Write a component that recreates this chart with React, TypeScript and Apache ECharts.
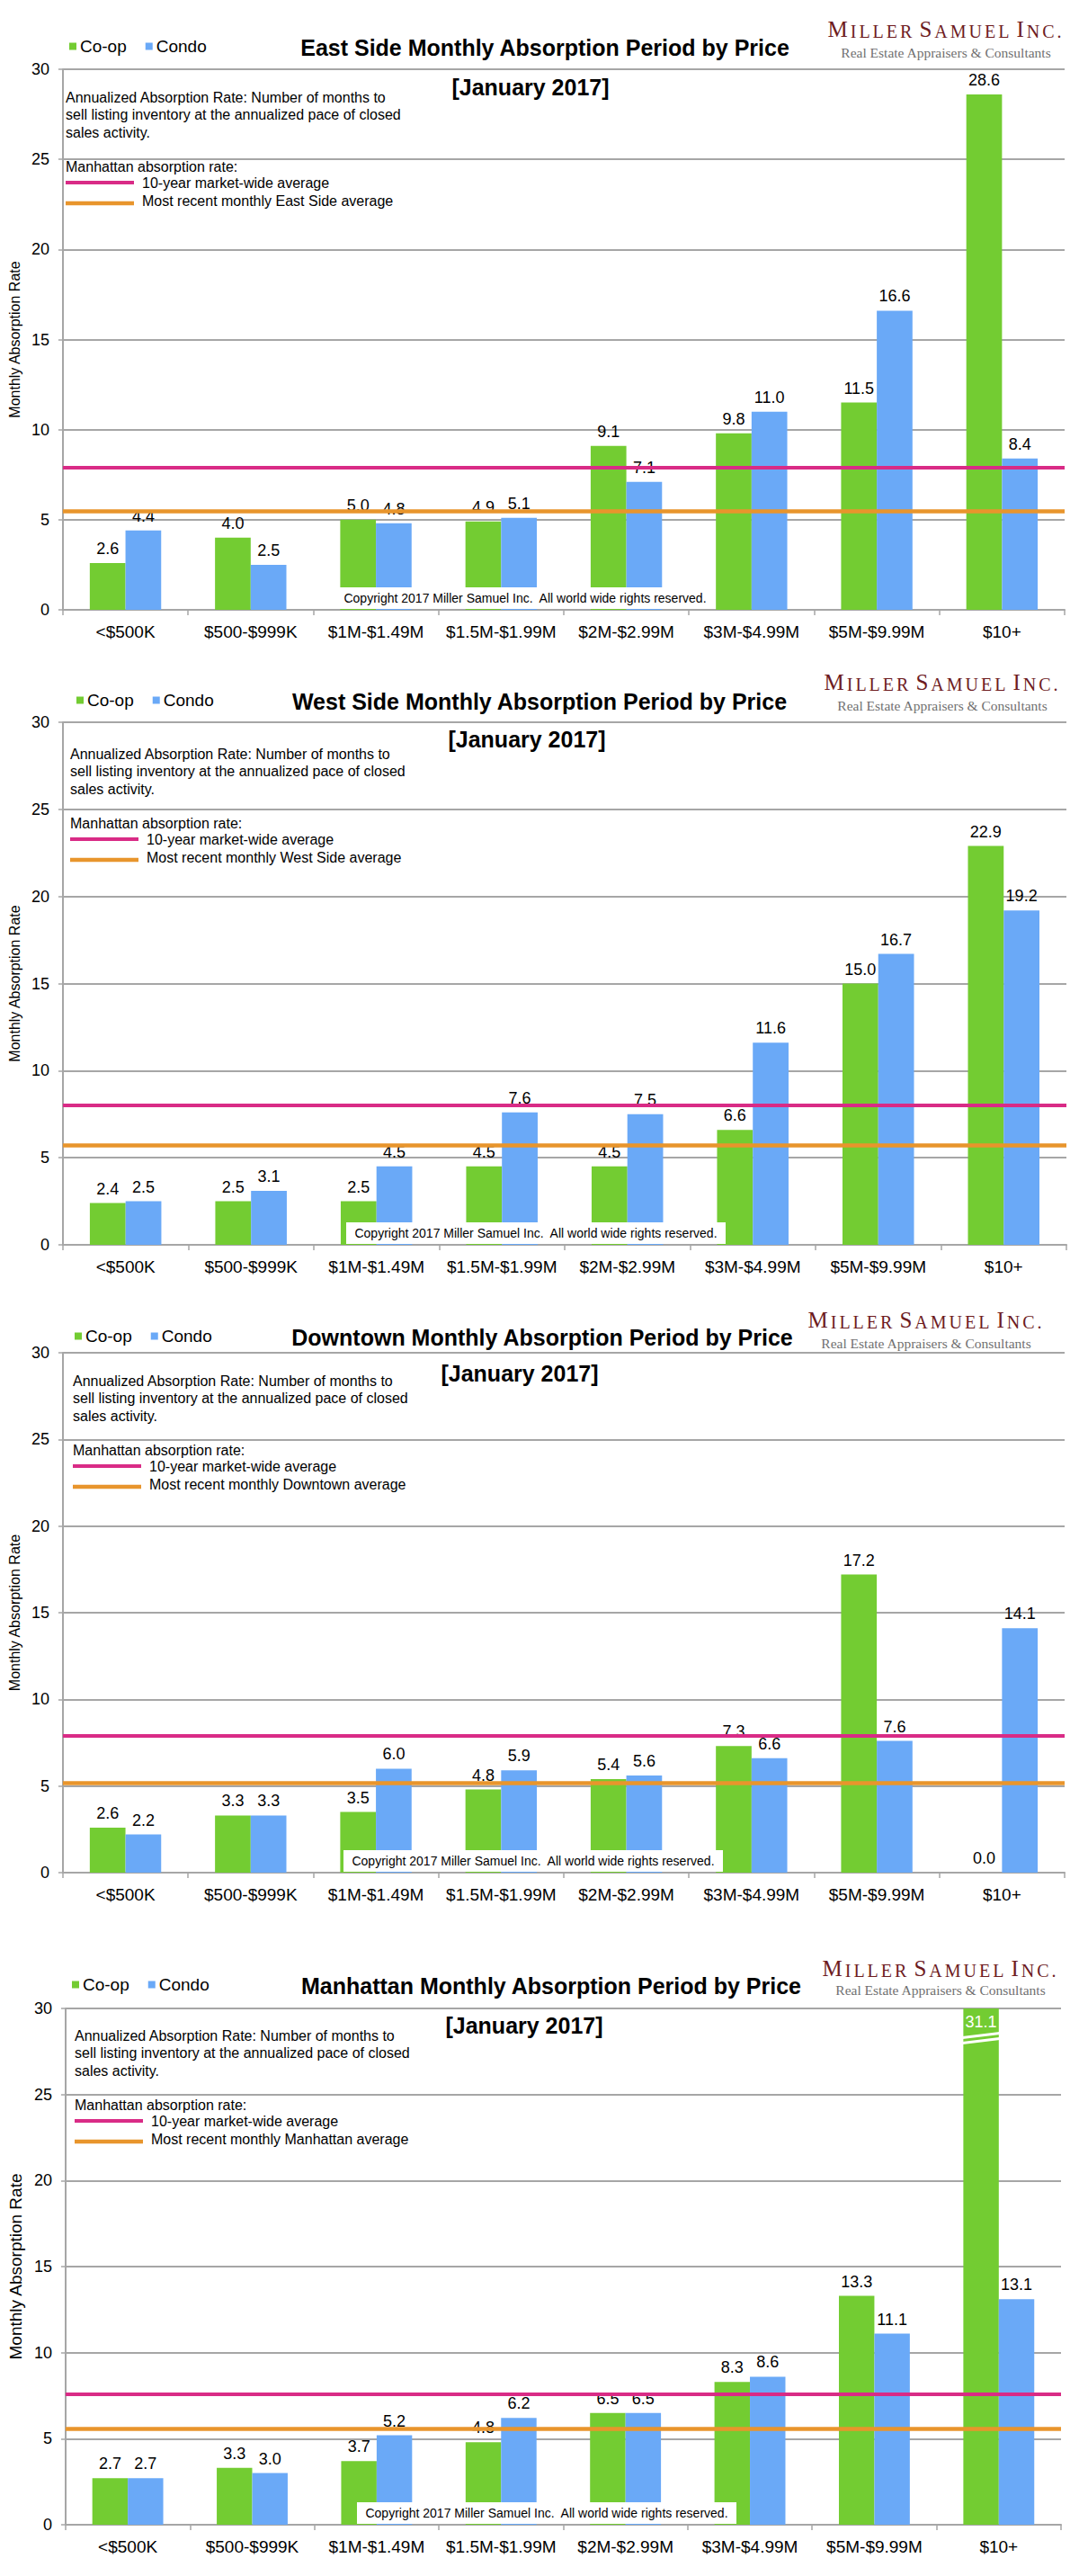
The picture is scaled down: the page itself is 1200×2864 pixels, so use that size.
import React, { useEffect, useRef } from "react";
import * as echarts from "echarts";

// ---------- data ----------
const categories = ["<$500K", "$500-$999K", "$1M-$1.49M", "$1.5M-$1.99M", "$2M-$2.99M", "$3M-$4.99M", "$5M-$9.99M", "$10+"];
const yTicks = [0, 5, 10, 15, 20, 25, 30];

const eastCoop = [2.6, 4.0, 5.0, 4.9, 9.1, 9.8, 11.5, 28.6];
const eastCondo = [4.4, 2.5, 4.8, 5.1, 7.1, 11.0, 16.6, 8.4];
const westCoop = [2.4, 2.5, 2.5, 4.5, 4.5, 6.6, 15.0, 22.9];
const westCondo = [2.5, 3.1, 4.5, 7.6, 7.5, 11.6, 16.7, 19.2];
const downtownCoop = [2.6, 3.3, 3.5, 4.8, 5.4, 7.3, 17.2, 0.0];
const downtownCondo = [2.2, 3.3, 6.0, 5.9, 5.6, 6.6, 7.6, 14.1];
const manhattanCoop = [2.7, 3.3, 3.7, 4.8, 6.5, 8.3, 13.3, 31.1];
const manhattanCondo = [2.7, 3.0, 5.2, 6.2, 6.5, 8.6, 11.1, 13.1];

const regions = ["East Side", "West Side", "Downtown", "Manhattan"];
const coopSeries = [eastCoop, westCoop, downtownCoop, manhattanCoop];
const condoSeries = [eastCondo, westCondo, downtownCondo, manhattanCondo];
const tenYearAverage = [7.9, 8.0, 7.9, 7.6];
const recentAverage = [5.5, 5.7, 5.2, 5.6];
// axis break drawn on the Manhattan $10+ co-op bar: [category index, value]
const breakMark = [7, 28.25];

const periodLabel = "[January 2017]";
const noteLines = [
  "Annualized Absorption Rate: Number of months to",
  "sell listing inventory at the annualized pace of closed",
  "sales activity.",
];
const copyrightText = "Copyright 2017 Miller Samuel Inc.  All world wide rights reserved.";

// ---------- styles / layout ----------
const FONT = "'Liberation Sans', Arial, Helvetica, sans-serif";
const SERIF = "'Liberation Serif', 'Times New Roman', serif";
const GREEN = "#73cc32";
const BLUE = "#6aa9f7";
const PINK = "#d92b86";
const ORANGE = "#e8952c";
const GRAY = "#a6a6a6";
const LOGO_RED = "#6e1c1f";
const CAT_GAP = 0.43;

const layouts = [
  { left: 64, top: 77, right: 1184, bottom: 678, legX: 77, headY: 53, titleX: 606, janX: 590, janY: 97, logoX: 1052, logoY: 32, subY: 58, noteX: 73, noteY: 108, copyX: 584, nameFont: 16, nameGap: 42 },
  { left: 67, top: 803, right: 1186, bottom: 1384, legX: 85, headY: 780, titleX: 600, janX: 586, janY: 822, logoX: 1048, logoY: 758, subY: 784, noteX: 78, noteY: 838, copyX: 596, nameFont: 16, nameGap: 44 },
  { left: 63, top: 1504, right: 1184, bottom: 2082, legX: 83, headY: 1487, titleX: 603, janX: 578, janY: 1527, logoX: 1030, logoY: 1467, subY: 1493, noteX: 81, noteY: 1535, copyX: 593, nameFont: 16, nameGap: 40 },
  { left: 67, top: 2233, right: 1180, bottom: 2807, legX: 80, headY: 2208, titleX: 613, janX: 583, janY: 2252, logoX: 1046, logoY: 2188, subY: 2212, noteX: 83, noteY: 2263, copyX: 608, nameFont: 19, nameGap: 38 },
];

function txt(x: number, y: number, text: string, opts: any = {}) {
  const align = opts.align || "left";
  return {
    type: "text",
    x,
    y,
    z: opts.z || 50,
    silent: true,
    style: {
      text,
      fill: opts.fill || "#000",
      fontSize: opts.fontSize || 16,
      fontWeight: opts.fontWeight || "normal",
      fontFamily: opts.fontFamily || FONT,
      align,
      verticalAlign: "middle",
      textAlign: align,
      textVerticalAlign: "middle",
      rich: opts.rich,
    },
  };
}

function logoRichText() {
  return ["MILLER", "SAMUEL", "INC."]
    .map((w) => w.split("").map((ch, k) => `{${k === 0 ? "L" : "s"}|${ch}}`).join(""))
    .join(" ");
}

function buildOption() {
  const grid = layouts.map((l) => ({
    left: l.left,
    top: l.top,
    width: l.right - l.left,
    height: l.bottom - l.top,
    containLabel: false,
  }));

  const xAxis = layouts.map((_, i) => ({
    type: "category",
    gridIndex: i,
    data: categories,
    axisLine: { show: true, lineStyle: { color: GRAY, width: 2 } },
    axisTick: { show: true, length: 6, lineStyle: { color: GRAY, width: 1.5 } },
    axisLabel: { fontSize: 19, color: "#000", margin: 15, fontFamily: FONT, interval: 0 },
    splitLine: { show: false },
  }));

  const yAxis = layouts.map((l, i) => ({
    type: "value",
    gridIndex: i,
    min: yTicks[0],
    max: yTicks[yTicks.length - 1],
    interval: yTicks[1] - yTicks[0],
    name: "Monthly Absorption Rate",
    nameLocation: "middle",
    nameGap: l.nameGap,
    nameTextStyle: { fontSize: l.nameFont, color: "#000", fontFamily: FONT },
    axisLine: { show: true, lineStyle: { color: GRAY, width: 2 } },
    axisTick: { show: true, length: 5, lineStyle: { color: GRAY, width: 1.5 } },
    axisLabel: { fontSize: 18, color: "#000", margin: 15, fontFamily: FONT },
    splitLine: { show: true, lineStyle: { color: GRAY, width: 2 } },
  }));

  const labelBase = {
    show: true,
    position: "top",
    distance: 7,
    fontSize: 18,
    color: "#000",
    fontFamily: FONT,
    formatter: (p: any) => Number(p.value).toFixed(1),
  };

  const series: any[] = [];
  layouts.forEach((_, i) => {
    series.push({
      type: "bar",
      name: "Co-op",
      xAxisIndex: i,
      yAxisIndex: i,
      barGap: "0%",
      barCategoryGap: CAT_GAP * 100 + "%",
      itemStyle: { color: GREEN },
      label: labelBase,
      emphasis: { disabled: true },
      data: coopSeries[i].map((v) =>
        v > yTicks[yTicks.length - 1]
          ? { value: v, label: { position: "insideTop", distance: 6, color: "#fff" } }
          : v
      ),
    });
    series.push({
      type: "bar",
      name: "Condo",
      xAxisIndex: i,
      yAxisIndex: i,
      barGap: "0%",
      barCategoryGap: CAT_GAP * 100 + "%",
      itemStyle: { color: BLUE },
      label: labelBase,
      emphasis: { disabled: true },
      data: condoSeries[i],
      markLine: {
        silent: true,
        symbol: ["none", "none"],
        label: { show: false },
        z: 6,
        data: [
          { yAxis: tenYearAverage[i], lineStyle: { color: PINK, width: 4, type: "solid" } },
          { yAxis: recentAverage[i], lineStyle: { color: ORANGE, width: 4.5, type: "solid" } },
        ],
      },
    });
  });

  // axis-break marks on the clipped bar
  series.push({
    type: "custom",
    xAxisIndex: 3,
    yAxisIndex: 3,
    z: 8,
    silent: true,
    data: [breakMark],
    renderItem: (_params: any, api: any) => {
      const c = api.coord([api.value(0), api.value(1)]);
      const catW = api.size([1, 0])[0];
      const barW = (catW * (1 - CAT_GAP)) / 2;
      const x0 = c[0] - barW - 1;
      const x1 = c[0] + 1;
      return {
        type: "group",
        children: [
          { type: "line", shape: { x1: x0, y1: c[1] - 1, x2: x1, y2: c[1] - 6 }, style: { stroke: "#fff", lineWidth: 3 } },
          { type: "line", shape: { x1: x0, y1: c[1] + 5, x2: x1, y2: c[1] }, style: { stroke: "#fff", lineWidth: 3 } },
        ],
      };
    },
  });

  const legend = layouts.map((l) => ({
    left: l.legX,
    top: l.headY - 11,
    padding: 0,
    icon: "rect",
    itemWidth: 8,
    itemHeight: 8,
    itemGap: 21,
    selectedMode: false,
    textStyle: { fontSize: 19, color: "#000", fontFamily: FONT, padding: [0, 0, 0, -1] },
    data: ["Co-op", "Condo"],
  }));

  const elements: any[] = [];
  layouts.forEach((l, i) => {
    elements.push(txt(l.titleX, l.headY, `${regions[i]} Monthly Absorption Period by Price`, { align: "center", fontSize: 25, fontWeight: "bold" }));
    elements.push(txt(l.janX, l.janY, periodLabel, { align: "center", fontSize: 25, fontWeight: "bold" }));
    elements.push(
      txt(l.logoX, l.logoY, logoRichText(), {
        align: "center",
        fontSize: 20,
        fontFamily: SERIF,
        fill: LOGO_RED,
        rich: {
          L: { fontSize: 25, fontFamily: SERIF, fill: LOGO_RED, padding: [0, 3, 0, 0], verticalAlign: "bottom" },
          s: { fontSize: 20, fontFamily: SERIF, fill: LOGO_RED, padding: [0, 3, 0, 0], verticalAlign: "bottom" },
        },
      })
    );
    elements.push(txt(l.logoX, l.subY, "Real Estate Appraisers & Consultants", { align: "center", fontSize: 15.5, fontFamily: SERIF, fill: "#707070" }));
    noteLines.forEach((line, k) => elements.push(txt(l.noteX, l.noteY + k * 19.5, line, { fontSize: 16 })));
    elements.push(txt(l.noteX, l.noteY + 77, "Manhattan absorption rate:", { fontSize: 16 }));
    elements.push({
      type: "line",
      silent: true,
      z: 50,
      shape: { x1: l.noteX, y1: l.noteY + 95, x2: l.noteX + 76, y2: l.noteY + 95 },
      style: { stroke: PINK, lineWidth: 4 },
    });
    elements.push(txt(l.noteX + 85, l.noteY + 95, "10-year market-wide average", { fontSize: 16 }));
    elements.push({
      type: "line",
      silent: true,
      z: 50,
      shape: { x1: l.noteX, y1: l.noteY + 118, x2: l.noteX + 76, y2: l.noteY + 118 },
      style: { stroke: ORANGE, lineWidth: 4.5 },
    });
    elements.push(txt(l.noteX + 85, l.noteY + 115, `Most recent monthly ${regions[i]} average`, { fontSize: 16 }));
    // copyright box
    elements.push({
      type: "rect",
      silent: true,
      z: 100,
      shape: { x: l.copyX - 211, y: l.bottom - 25, width: 422, height: 24 },
      style: { fill: "#fff" },
    });
    elements.push(txt(l.copyX, l.bottom - 13, copyrightText, { align: "center", fontSize: 14, z: 101 }));
  });

  return {
    animation: false,
    backgroundColor: "#fff",
    textStyle: { fontFamily: FONT },
    grid,
    xAxis,
    yAxis,
    legend,
    series,
    graphic: { elements },
  };
}

export default function App() {
  const ref = useRef<HTMLDivElement>(null);
  useEffect(() => {
    document.body.style.margin = "0";
    const chart = echarts.init(ref.current!, null, { renderer: "svg" });
    chart.setOption(buildOption() as any);
    return () => chart.dispose();
  }, []);
  return <div ref={ref} style={{ width: 1200, height: 2864, background: "#fff" }} />;
}
